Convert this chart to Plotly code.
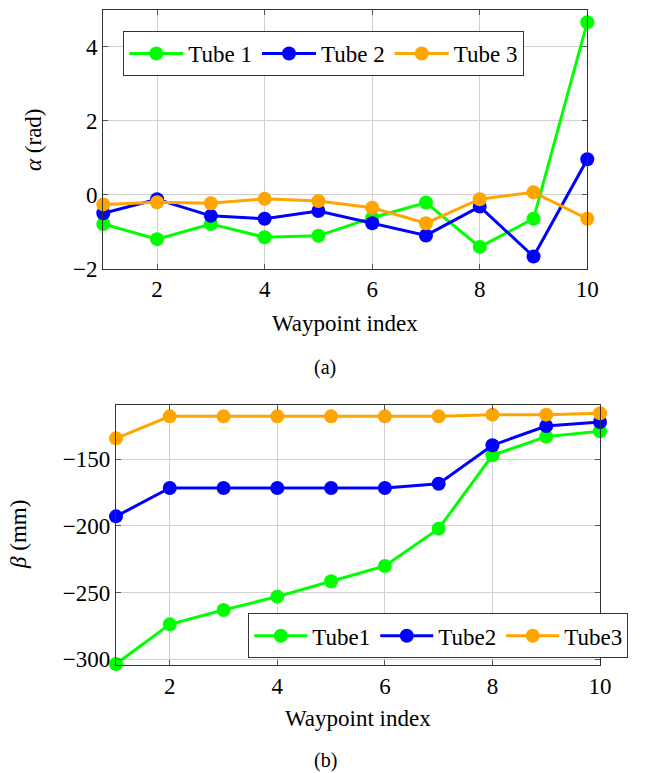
import plotly.graph_objects as go

waypoints = [1, 2, 3, 4, 5, 6, 7, 8, 9, 10]

alpha_tube1 = [-0.79, -1.20, -0.79, -1.15, -1.11, -0.62, -0.21, -1.41, -0.65, 4.67]
alpha_tube2 = [-0.50, -0.12, -0.57, -0.65, -0.44, -0.77, -1.10, -0.32, -1.67, 0.96]
alpha_tube3 = [-0.26, -0.20, -0.23, -0.11, -0.17, -0.35, -0.77, -0.12, 0.07, -0.65]

beta_tube1 = [-303.5, -273.8, -263.0, -253.0, -241.5, -230.0, -202.0, -147.0, -133.0, -129.0]
beta_tube2 = [-192.8, -171.5, -171.5, -171.5, -171.5, -171.5, -168.3, -139.5, -125.0, -122.0]
beta_tube3 = [-134.3, -117.8, -117.8, -117.8, -117.8, -117.8, -117.8, -116.5, -116.5, -115.5]

top_names = ["Tube 1", "Tube 2", "Tube 3"]
bottom_names = ["Tube1", "Tube2", "Tube3"]
colors = ["#00ff00", "#0000ff", "#ffa500"]

FONT = "Liberation Serif"
FS = 23

fig = go.Figure()

for name, ys, c in zip(top_names, [alpha_tube1, alpha_tube2, alpha_tube3], colors):
    fig.add_trace(go.Scatter(x=waypoints, y=ys, name=name, mode="lines+markers",
                             line=dict(color=c, width=3), marker=dict(color=c, size=14),
                             xaxis="x", yaxis="y", legend="legend", cliponaxis=False))
for name, ys, c in zip(bottom_names, [beta_tube1, beta_tube2, beta_tube3], colors):
    fig.add_trace(go.Scatter(x=waypoints, y=ys, name=name, mode="lines+markers",
                             line=dict(color=c, width=3), marker=dict(color=c, size=14),
                             xaxis="x2", yaxis="y2", legend="legend2", cliponaxis=False))

W, H = 650, 773
def fx(px):
    return px / W
def fy(py):
    return 1 - py / H

axis_common = dict(showgrid=True, gridcolor="#d0d0d0", gridwidth=1, zeroline=False,
                   showline=True, linecolor="#333333", linewidth=1.2, mirror="ticks",
                   ticks="inside", ticklen=5, tickcolor="#555555",
                   tickfont=dict(family=FONT, size=FS, color="black"), automargin=False)

fig.update_layout(
    width=W, height=H,
    margin=dict(l=0, r=0, t=0, b=0),
    paper_bgcolor="white", plot_bgcolor="white",
    showlegend=True,
    font=dict(family=FONT, size=FS, color="black"),
    xaxis=dict(domain=[fx(103.3), fx(587.3)], anchor="y", range=[1, 10],
               tickvals=[2, 4, 6, 8, 10], **axis_common),
    yaxis=dict(domain=[fy(268.7), fy(10)], anchor="x", range=[-2, 5],
               tickvals=[-2, 0, 2, 4], **axis_common),
    xaxis2=dict(domain=[fx(116), fx(600)], anchor="y2", range=[1, 10],
                tickvals=[2, 4, 6, 8, 10], **axis_common),
    yaxis2=dict(domain=[fy(665.3), fy(405.3)], anchor="x2", range=[-304.5, -109.5],
                tickvals=[-300, -250, -200, -150], **axis_common),
    legend=dict(x=fx(123.3), y=fy(31), xanchor="left", yanchor="top", orientation="h",
                bgcolor="white", bordercolor="#333333", borderwidth=1,
                font=dict(family=FONT, size=FS, color="black"), itemwidth=54,
                tracegroupgap=0),
    legend2=dict(x=fx(248.3), y=fy(613.3), xanchor="left", yanchor="top", orientation="h",
                 bgcolor="white", bordercolor="#333333", borderwidth=1,
                 font=dict(family=FONT, size=FS, color="black"), itemwidth=53,
                 tracegroupgap=0),
)

ann = [
    dict(text="Waypoint index", x=fx(345.3), y=fy(323)),
    dict(text="(a)", x=fx(325), y=fy(367), size=20),
    dict(text="Waypoint index", x=fx(358), y=fy(718)),
    dict(text="(b)", x=fx(325), y=fy(760), size=20),
    dict(text="<i>α</i> (rad)", x=fx(34), y=fy(140), angle=-90),
    dict(text="<i>β</i> (mm)", x=fx(18), y=fy(535), angle=-90),
]
for a in ann:
    fig.add_annotation(text=a["text"], x=a["x"], y=a["y"], xref="paper", yref="paper",
                       xanchor="center", yanchor="middle", showarrow=False,
                       textangle=a.get("angle", 0),
                       font=dict(family=FONT, size=a.get("size", FS), color="black"))

fig.write_html("out.html")
